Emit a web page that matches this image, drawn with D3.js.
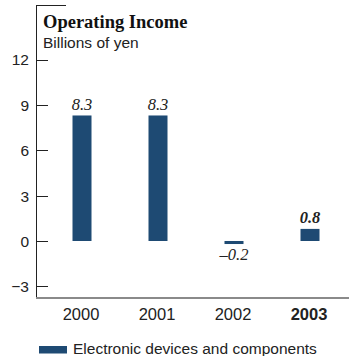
<!DOCTYPE html>
<html>
<head>
<meta charset="utf-8">
<script src="https://cdn.jsdelivr.net/npm/d3@7"></script>
<style>
  html, body { margin: 0; padding: 0; background: #fff; }
  svg { display: block; }
</style>
</head>
<body>
<svg id="chart" width="350" height="356"></svg>
<script>
// Operating income, electronic devices and components (billions of yen)
const years = ["2000", "2001", "2002", "2003"];
const income = [8.3, 8.3, -0.2, 0.8];
const yTicks = [-3, 0, 3, 6, 9, 12];
const valueLabels = ["8.3", "8.3", "\u20130.2", "0.8"];
const seriesName = "Electronic devices and components";
const boldYear = "2003";

const svg = d3.select("#chart");
const barColor = "#1e4a73";
const sans = "'Liberation Sans', Arial, sans-serif";
const serif = "'Liberation Serif', 'Times New Roman', serif";

const x = d3.scaleBand().domain(years).range([44, 348])
  .paddingInner(0.75).paddingOuter(0.375);
const y = d3.scaleLinear().domain([-3.77, 15.54]).range([298, 6]);

// Left axis frame with a short cap at the top
svg.append("line").attr("x1", 36.5).attr("x2", 36.5).attr("y1", 5.5).attr("y2", 298)
  .attr("stroke", "#222").attr("stroke-width", 1);
svg.append("line").attr("x1", 36).attr("x2", 66).attr("y1", 5.5).attr("y2", 5.5)
  .attr("stroke", "#222").attr("stroke-width", 1);

// Y axis ticks and labels
const yAxis = d3.axisLeft(y).tickValues(yTicks).tickSize(0).tickPadding(0)
  .tickFormat(d => d < 0 ? "\u2212" + Math.abs(d) : d);
const gy = svg.append("g").attr("transform", "translate(29,0)").call(yAxis);
gy.select(".domain").remove();
gy.selectAll("text").attr("font-family", sans).attr("font-size", 15.5).attr("fill", "#222")
  .attr("dy", "0.35em");
svg.append("g").selectAll("line").data(yTicks).join("line")
  .attr("x1", 36).attr("x2", 48)
  .attr("y1", d => Math.round(y(d)) + 0.5).attr("y2", d => Math.round(y(d)) + 0.5)
  .attr("stroke", "#222").attr("stroke-width", 1);

// Bottom baseline
svg.append("line").attr("x1", 36).attr("x2", 349).attr("y1", 298).attr("y2", 298)
  .attr("stroke", "#8a8a8a").attr("stroke-width", 2);

// X axis labels
const xAxis = d3.axisBottom(x).tickSize(0).tickPadding(0);
const gx = svg.append("g").attr("transform", "translate(-1,319.5)").call(xAxis);
gx.select(".domain").remove();
gx.selectAll("text").attr("font-family", sans).attr("font-size", 16.5).attr("fill", "#222")
  .attr("dy", 0)
  .attr("font-weight", d => d === boldYear ? "bold" : "normal");

// Bars
svg.append("g").selectAll("rect").data(years).join("rect")
  .attr("x", d => x(d))
  .attr("width", x.bandwidth())
  .attr("y", (d, i) => y(Math.max(0, income[i])))
  .attr("height", (d, i) => Math.abs(y(income[i]) - y(0)))
  .attr("fill", barColor);

// Value labels
svg.append("g").selectAll("text").data(years).join("text")
  .attr("x", d => x(d) + x.bandwidth() / 2)
  .attr("y", (d, i) => income[i] >= 0 ? y(income[i]) - 5.5 : y(income[i]) + 16)
  .attr("text-anchor", "middle")
  .attr("font-family", serif)
  .attr("font-style", "italic")
  .attr("font-size", 16.5)
  .attr("font-weight", d => d === boldYear ? "bold" : "normal")
  .attr("fill", "#222")
  .text((d, i) => valueLabels[i]);

// Title
svg.append("text").attr("x", 43).attr("y", 28)
  .attr("font-family", serif).attr("font-weight", "bold").attr("font-size", 18.5)
  .attr("fill", "#111").text("Operating Income");
svg.append("text").attr("x", 43).attr("y", 48)
  .attr("font-family", sans).attr("font-size", 15.5)
  .attr("fill", "#222").text("Billions of yen");

// Legend
svg.append("rect").attr("x", 39).attr("y", 346).attr("width", 28).attr("height", 7.5)
  .attr("fill", barColor);
svg.append("text").attr("x", 73).attr("y", 353.5)
  .attr("font-family", sans).attr("font-size", 15.5)
  .attr("fill", "#222").text(seriesName);
</script>
</body>
</html>
